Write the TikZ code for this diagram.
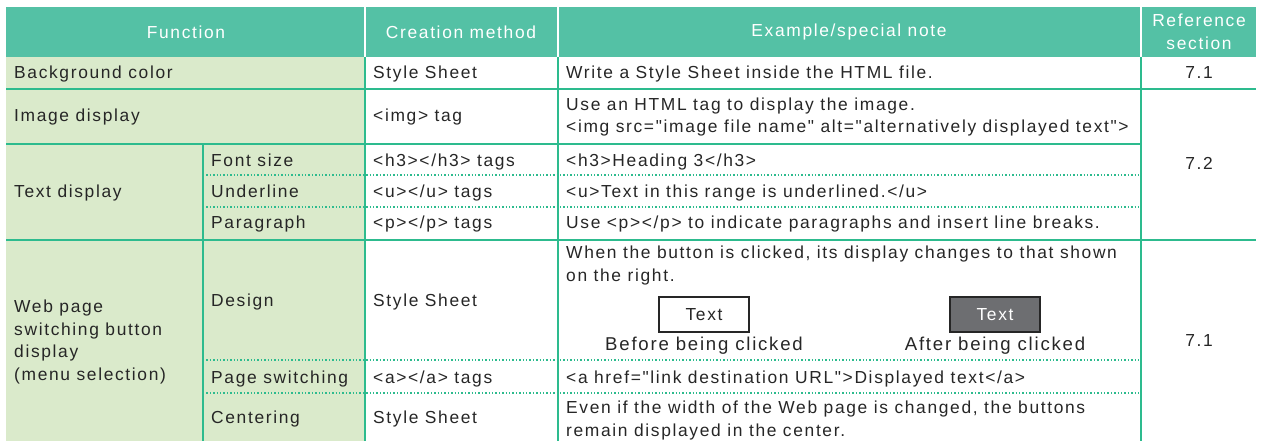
\documentclass[tikz,border=0pt]{standalone}
\usepackage{fontspec}
\setmainfont{Liberation Sans}[LetterSpace=9.5,Ligatures=TeXOff]
\usetikzlibrary{positioning}
\definecolor{headteal}{HTML}{54C1A5}
\definecolor{ruleteal}{HTML}{2DBB8E}
\definecolor{leafgreen}{HTML}{DAEACB}
\definecolor{btngray}{HTML}{6D6E71}
\newcommand{\cellfont}{\fontsize{17.4}{22.5}\selectfont}
\begin{document}
\begin{tikzpicture}[x=1pt,y=-1pt,
	cell/.style={anchor=base west,inner sep=0pt,align=left,font=\cellfont,text=black!85},
	headcell/.style={anchor=center,inner sep=0pt,align=center,font=\cellfont,text=white},
	refcell/.style={anchor=base,inner sep=0pt,font=\cellfont,text=black!85},
	solidrule/.style={draw=ruleteal,line width=1.6pt},
	dotrule/.style={draw=ruleteal,line width=1.4pt,dotted},
	btnbox/.style={draw=black!85,line width=1.6pt,minimum width=90pt,minimum height=35pt,inner sep=0pt,font=\cellfont},
	captext/.style={inner sep=0pt,font=\fontsize{18.6}{22}\selectfont,text=black!85}
	]
	\useasboundingbox (0,0) rectangle (1261,441);
	% fills
	\fill[headteal] (6,7) rectangle (1256,57);
	\fill[leafgreen] (6,57) rectangle (365,441);
	\draw[white,line width=2pt] (365,7) -- (365,57) (558,7) -- (558,57) (1141,7) -- (1141,57);
	% rules
	\draw[solidrule] (6,89) -- (1256,89);
	\draw[solidrule] (6,144) -- (1141,144);
	\draw[solidrule] (6,240) -- (1256,240);
	\draw[dotrule] (203,175) -- (1141,175) (203,207) -- (1141,207);
	\draw[dotrule] (203,360) -- (1141,360) (203,393) -- (1141,393);
	\draw[solidrule] (203,144) -- (203,441);
	\draw[solidrule] (365,57) -- (365,441);
	\draw[solidrule] (558,57) -- (558,441);
	\draw[solidrule] (1141,57) -- (1141,441);
	% header
	\path
	+(186,32)  node[headcell] (hfun) {Function}
	+(461,32)  node[headcell] (hmeth) {Creation method}
	+(849,32)  node[headcell] (hnote) {Example/special note}
	+(1199,32) node[headcell] (href) {Reference\\section}
	;
	% background color
	\path
	+(14,79)   node[cell] (bgfun) {Background color}
	+(373,79)  node[cell] (bgmeth) {Style Sheet}
	+(566,79)  node[cell] (bgnote) {Write a Style Sheet inside the HTML file.}
	+(1199,79) node[refcell] (bgref) {7.1}
	;
	% image display (multi-line nodes sit on their last baseline)
	\path
	+(14,122)  node[cell] (imgfun) {Image display}
	+(373,122) node[cell] (imgmeth) {<img> tag}
	+(566,133) node[cell] (imgnote) {Use an HTML tag to display the image.\\<img src="image file name" alt="alternatively displayed text">}
	+(1199,170) node[refcell] (imgref) {7.2}
	;
	% text display
	\path
	+(14,197)  node[cell] (txtfun) {Text display}
	+(211,166) node[cell] (sizefun) {Font size}
	+(211,197) node[cell] (ulfun) {Underline}
	+(211,228) node[cell] (parfun) {Paragraph}
	+(373,166) node[cell] (sizemeth) {<h3></h3> tags}
	+(373,197) node[cell] (ulmeth) {<u></u> tags}
	+(373,228) node[cell] (parmeth) {<p></p> tags}
	+(566,166) node[cell] (sizenote) {<h3>Heading 3</h3>}
	+(566,197) node[cell] (ulnote) {<u>Text in this range is underlined.</u>}
	+(566,228) node[cell] (parnote) {Use <p></p> to indicate paragraphs and insert line breaks.}
	;
	% web page buttons
	\path
	+(14,380)  node[cell] (webfun) {Web page\\switching button\\display\\(menu selection)}
	+(211,306) node[cell] (desfun) {Design}
	+(211,383) node[cell] (pagefun) {Page switching}
	+(211,423) node[cell] (cenfun) {Centering}
	+(373,306) node[cell] (desmeth) {Style Sheet}
	+(373,383) node[cell] (pagemeth) {<a></a> tags}
	+(373,423) node[cell] (cenmeth) {Style Sheet}
	+(566,281) node[cell] (desnote) {When the button is clicked, its display changes to that shown\\on the right.}
	+(566,383) node[cell] (pagenote) {<a href="link destination URL">Displayed text</a>}
	+(566,436) node[cell] (cennote) {Even if the width of the Web page is changed, the buttons\\remain displayed in the center.}
	+(1199,346) node[refcell] (webref) {7.1}
	;
	% button samples
	\path
	+(704,314.5) node[btnbox,fill=white,text=black!85] (before) {Text}
	+(995,314.5) node[btnbox,fill=btngray,text=white] (after) {Text}
	;
	\node[captext,below=18pt of before.south,anchor=base] (beforecap) {Before being clicked};
	\node[captext,below=18pt of after.south,anchor=base] (aftercap) {After being clicked};
\end{tikzpicture}
\end{document}
